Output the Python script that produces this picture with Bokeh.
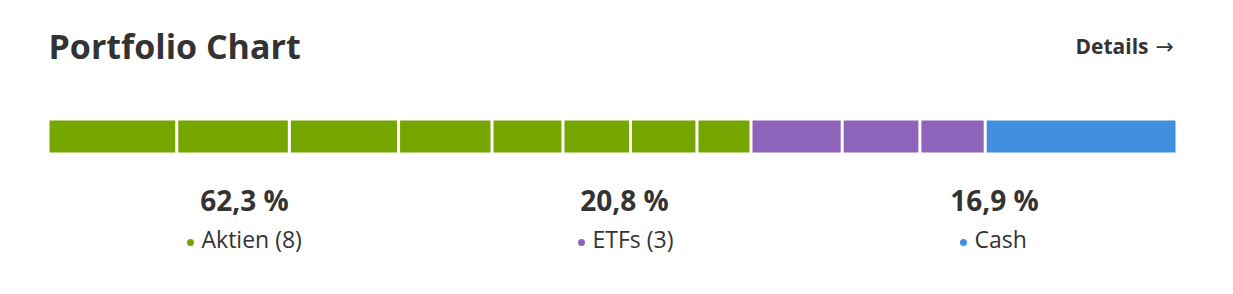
from bokeh.plotting import figure
from bokeh.models import Range1d, Label, ColumnDataSource
from bokeh.embed import file_html
from bokeh.resources import INLINE

# ---- data ----
groups = ["Aktien (8)", "ETFs (3)", "Cash"]
group_pcts = ["62,3 %", "20,8 %", "16,9 %"]
group_colors = ["#76a600", "#8d64b9", "#418fde"]
aktien = [11.3, 10.0, 9.7, 8.3, 6.3, 6.0, 5.9, 4.8]
etfs = [8.1, 6.9, 5.8]
cash = [16.9]

W, H = 1233, 294
BAR_L, BAR_W = 49, 1126          # pixel extent of the bar
FONT = "Open Sans"
TXT = "#333333"

def px(xpix):
    """screen pixel -> percentage data units"""
    return (xpix - BAR_L) / BAR_W * 100.0

def sy(baseline_from_top, size):
    """baseline (from top, px) -> screen y for a middle-anchored label"""
    return H - (baseline_from_top - 0.4 * size)

p = figure(width=W, height=H, output_backend="svg", toolbar_location=None,
           x_range=Range1d(px(0), px(W)), y_range=Range1d(0, H),
           min_border=0, min_border_left=0, min_border_right=0,
           min_border_top=0, min_border_bottom=0)
p.axis.visible = False
p.grid.visible = False
p.outline_line_color = None
p.background_fill_color = "white"
p.border_fill_color = "white"

# segments
vals, cols = [], []
for series, c in zip([aktien, etfs, cash], group_colors):
    vals += series
    cols += [c] * len(series)
left, right, acc = [], [], 0.0
for v in vals:
    left.append(acc)
    acc += v
    right.append(acc)
src = ColumnDataSource(dict(left=left, right=right, color=cols))
p.quad(left="left", right="right", bottom=H - 152, top=H - 120,
       fill_color="color", line_color=None, source=src)
# white separators between segments
p.segment(x0=right[:-1], x1=right[:-1], y0=H - 153, y1=H - 119,
          line_color="white", line_width=3)

# title + details
p.add_layout(Label(x=48, y=sy(59, 34), x_units="screen", y_units="screen",
                   text="Portfolio Chart", text_font=FONT, text_font_style="bold",
                   text_font_size="34px", text_color=TXT, text_baseline="middle"))
p.add_layout(Label(x=1148, y=sy(54, 21), x_units="screen", y_units="screen",
                   text="Details", text_font=FONT, text_font_style="bold",
                   text_font_size="21px", text_color=TXT, text_align="right",
                   text_baseline="middle"))
p.add_layout(Label(x=1155, y=sy(55, 22), x_units="screen", y_units="screen",
                   text="\u2192", text_font="DejaVu Sans",
                   text_font_size="22px", text_color=TXT, text_align="left",
                   text_baseline="middle"))

# legend columns
centers = [244, 624, 994]
dot_x = [190, 581, 963]
for cx, dx, name, pct, c in zip(centers, dot_x, groups, group_pcts, group_colors):
    p.add_layout(Label(x=cx, y=sy(211, 28), x_units="screen", y_units="screen",
                       text=pct, text_font=FONT, text_font_style="bold",
                       text_font_size="28px", text_color=TXT, text_align="center",
                       text_baseline="middle"))
    p.add_layout(Label(x=dx + 11, y=sy(248, 23), x_units="screen", y_units="screen",
                       text=name, text_font=FONT, text_font_size="23px",
                       text_color=TXT, text_align="left", text_baseline="middle"))
    p.scatter(x=[px(dx)], y=[H - 242], size=7, color=c, line_color=None)

open("out.html", "w").write(file_html(p, INLINE))
